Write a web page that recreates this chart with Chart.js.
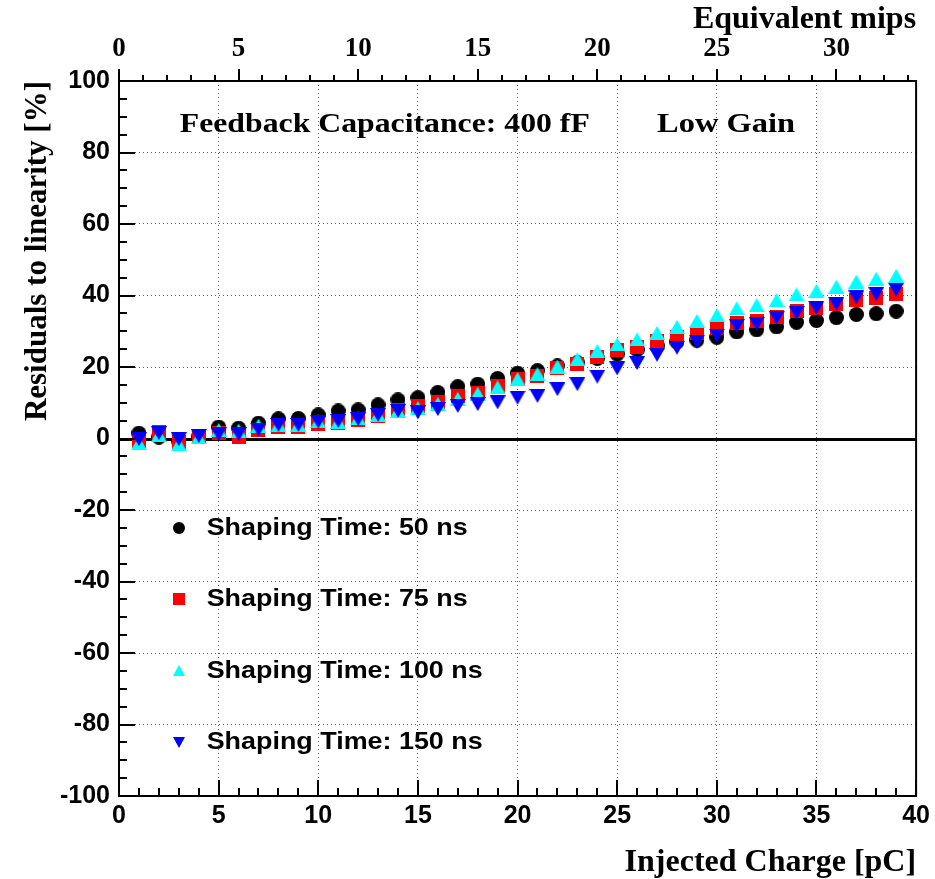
<!DOCTYPE html>
<html>
<head>
<meta charset="utf-8">
<script src="https://cdn.jsdelivr.net/npm/chart.js@4/dist/chart.umd.min.js"></script>
<style>
  html, body { margin: 0; padding: 0; background: #ffffff; }
  #c { display: block; }
</style>
</head>
<body>
<canvas id="c" width="935" height="879"></canvas>
<script>
// Injected charge in pC
const charge = [1,2,3,4,5,6,7,8,9,10,11,12,13,14,15,16,17,18,19,20,
                21,22,23,24,25,26,27,28,29,30,31,32,33,34,35,36,37,38,39];

// Residuals to linearity [%] for each shaping time
const shaping50 = [1.5,0.4,-0.8,0.5,3.2,2.9,4.3,5.5,5.6,6.6,7.7,8.0,9.4,10.8,11.4,12.9,14.5,15.2,16.8,18.3,
                   19.0,20.3,21.2,22.4,23.6,24.8,25.9,27.0,27.5,28.3,29.8,30.4,31.2,32.5,33.0,33.8,34.7,34.9,35.6];
const shaping75 = [-0.8,1.8,-1.0,0.6,1.5,0.5,2.4,3.1,3.2,4.1,4.2,5.2,6.4,8.0,9.1,10.3,11.9,12.7,14.7,16.7,
                   17.5,19.6,20.9,22.9,24.7,25.7,27.3,28.5,29.5,31.0,32.4,33.0,34.0,35.6,36.4,37.6,38.7,39.3,40.3];
const shaping100 = [-1.3,1.0,-1.6,0.3,2.4,2.2,3.6,3.8,3.8,4.8,4.6,5.6,6.6,7.7,8.5,9.7,11.1,12.5,14.3,16.6,
                    18.0,20.1,22.2,24.5,26.3,27.7,29.5,31.2,32.9,34.5,36.4,37.3,38.7,40.3,41.3,42.5,43.9,44.7,45.5];
const shaping150 = [-0.2,1.5,-0.2,0.7,1.2,1.2,2.5,3.8,3.8,4.7,4.9,5.4,6.6,7.7,7.3,8.2,9.1,9.6,10.1,11.4,
                    11.9,13.8,15.2,17.3,19.6,21.1,23.4,25.4,27.1,28.8,31.5,32.1,33.8,35.2,36.6,37.7,39.5,40.4,41.6];

const seriesLabels = ['Shaping Time: 50 ns', 'Shaping Time: 75 ns', 'Shaping Time: 100 ns', 'Shaping Time: 150 ns'];
const seriesColors = ['#000000', '#ff0000', '#00ffff', '#0000ff'];
const seriesShapes = ['circle', 'square', 'up', 'down'];

const xAxisTitle = 'Injected Charge [pC]';
const yAxisTitle = 'Residuals to linearity [%]';
const topAxisTitle = 'Equivalent mips';
const noteLeft = 'Feedback Capacitance: 400 fF';
const noteRight = 'Low Gain';

// one mip corresponds to 1.2 pC
const pcPerMip = 1.2;
const chargeMax = 40;

// Marker sprites (centred on their bounding box)
function makeMarker(shape, color, w, h) {
  const c = document.createElement('canvas');
  c.width = w; c.height = h;
  const g = c.getContext('2d');
  g.fillStyle = color;
  g.beginPath();
  if (shape === 'circle') {
    g.arc(w / 2, h / 2, w / 2, 0, Math.PI * 2);
  } else if (shape === 'square') {
    g.rect(0, 0, w, h);
  } else if (shape === 'up') {
    g.moveTo(w / 2, 0); g.lineTo(w, h); g.lineTo(0, h); g.closePath();
  } else {
    g.moveTo(0, 0); g.lineTo(w, 0); g.lineTo(w / 2, h); g.closePath();
  }
  g.fill();
  return c;
}
const markerSize = { circle: [15, 15], square: [14, 14], up: [16, 14], down: [16, 14] };
const legendSize = { circle: [12, 12], square: [12, 12], up: [12, 11], down: [12, 11] };

const markers = seriesShapes.map((s, i) => makeMarker(s, seriesColors[i], markerSize[s][0], markerSize[s][1]));
const legendMarkers = seriesShapes.map((s, i) => makeMarker(s, seriesColors[i], legendSize[s][0], legendSize[s][1]));

const seriesValues = [shaping50, shaping75, shaping100, shaping150];

const datasets = seriesValues.map((vals, i) => ({
  label: seriesLabels[i],
  data: charge.map((q, k) => ({ x: q, y: vals[k] })),
  pointStyle: markers[i],
  pointRadius: 8,
  pointHoverRadius: 8,
  showLine: false,
  order: 4 - i
}));

function stretchText(ctx, str, x, y, font, width) {
  ctx.save();
  ctx.font = font;
  const w = ctx.measureText(str).width;
  const s = width ? width / w : 1;
  ctx.translate(x, y);
  ctx.scale(s, 1);
  ctx.textAlign = 'left';
  ctx.textBaseline = 'middle';
  ctx.fillStyle = '#000';
  ctx.fillText(str, 0, 0);
  ctx.restore();
}

const frameAndLabels = {
  id: 'frameAndLabels',
  beforeDatasetsDraw(chart) {
    const { ctx, chartArea: a, scales: { y } } = chart;
    const y0 = Math.round(y.getPixelForValue(0)) + 0.5;
    ctx.save();
    ctx.strokeStyle = '#000';
    ctx.lineWidth = 3;
    ctx.beginPath();
    ctx.moveTo(a.left, y0);
    ctx.lineTo(a.right, y0);
    ctx.stroke();
    ctx.restore();
  },
  afterDatasetsDraw(chart) {
    const { ctx, chartArea: a, scales: { x, y, x2 } } = chart;
    ctx.save();
    ctx.strokeStyle = '#000';
    ctx.lineWidth = 2;
    ctx.strokeRect(a.left, a.top, a.right - a.left, a.bottom - a.top);

    // tick marks
    ctx.lineWidth = 2;
    ctx.beginPath();
    for (let v = -100; v <= 100; v += 5) {
      const p = Math.round(y.getPixelForValue(v));
      const len = v % 20 === 0 ? 16 : 8;
      ctx.moveTo(a.left, p); ctx.lineTo(a.left + len, p);
    }
    for (let v = 0; v <= chargeMax; v += 1) {
      const p = Math.round(x.getPixelForValue(v));
      const len = v % 5 === 0 ? 16 : 8;
      ctx.moveTo(p, a.bottom); ctx.lineTo(p, a.bottom - len);
    }
    for (let v = 0; v <= chargeMax / pcPerMip; v += 1) {
      const p = Math.round(x2.getPixelForValue(v));
      const len = v % 5 === 0 ? 12 : 6;
      ctx.moveTo(p, a.top); ctx.lineTo(p, a.top - len);
    }
    ctx.stroke();
    ctx.restore();

    // annotation texts
    stretchText(ctx, noteLeft, x.getPixelForValue(3.05), y.getPixelForValue(87.7),
      'bold 28px "Liberation Serif"', 410);
    stretchText(ctx, noteRight, x.getPixelForValue(27.0), y.getPixelForValue(87.7),
      'bold 28px "Liberation Serif"', 138);

    // legend
    const rows = [-25, -45, -65, -85];
    rows.forEach((r, i) => {
      const px = x.getPixelForValue(3.0);
      const py = y.getPixelForValue(r);
      const m = legendMarkers[i];
      ctx.drawImage(m, Math.round(px - m.width / 2), Math.round(py - m.height / 2));
      const widths = [261, 261, 276, 276];
      stretchText(ctx, seriesLabels[i], x.getPixelForValue(4.4), py, 'bold 24px "Liberation Sans"', widths[i]);
    });
  }
};

const gridColor = '#5a5a5a';

new Chart(document.getElementById('c'), {
  type: 'scatter',
  data: { datasets },
  options: {
    responsive: false,
    animation: false,
    events: [],
    layout: { padding: { left: 0, right: 17, top: 0, bottom: 0 } },
    plugins: { legend: { display: false }, tooltip: { enabled: false } },
    scales: {
      x: {
        type: 'linear',
        position: 'bottom',
        min: 0, max: chargeMax,
        afterFit(s) { s.height = 83; },
        ticks: {
          stepSize: 5,
          color: '#000',
          padding: 5,
          maxRotation: 0,
          font: { family: '"Liberation Sans"', weight: 'bold', size: 25 }
        },
        grid: {
          drawTicks: false,
          lineWidth: 1,
          color: c => (c.tick && c.tick.value > 0 && c.tick.value < chargeMax) ? gridColor : 'transparent'
        },
        border: { display: false, dash: [1, 3] },
        title: {
          display: true,
          text: xAxisTitle,
          align: 'end',
          color: '#000',
          padding: { top: 0, bottom: -3 },
          font: { family: '"Liberation Serif"', weight: 'bold', size: 32 }
        }
      },
      x2: {
        type: 'linear',
        position: 'top',
        min: 0, max: chargeMax / pcPerMip,
        afterFit(s) { s.height = 81; },
        ticks: {
          stepSize: 5,
          includeBounds: false,
          color: '#000',
          padding: 16,
          maxRotation: 0,
          font: { family: '"Liberation Serif"', weight: 'bold', size: 27 }
        },
        grid: { display: false, drawTicks: false },
        border: { display: false },
        title: {
          display: true,
          text: topAxisTitle,
          align: 'end',
          color: '#000',
          padding: { top: 1, bottom: 0 },
          font: { family: '"Liberation Serif"', weight: 'bold', size: 32 }
        }
      },
      y: {
        type: 'linear',
        position: 'left',
        min: -100, max: 100,
        afterFit(s) { s.width = 119; },
        ticks: {
          stepSize: 20,
          color: '#000',
          padding: 9,
          font: { family: '"Liberation Sans"', weight: 'bold', size: 25 }
        },
        grid: {
          drawTicks: false,
          lineWidth: 1,
          color: c => (c.tick && c.tick.value > -100 && c.tick.value < 100 && c.tick.value !== 0) ? gridColor : 'transparent'
        },
        border: { display: false, dash: [1, 3] },
        title: {
          display: true,
          text: yAxisTitle,
          align: 'end',
          color: '#000',
          padding: { top: 19, bottom: 0 },
          font: { family: '"Liberation Serif"', weight: 'bold', size: 31 }
        }
      }
    }
  },
  plugins: [frameAndLabels]
});
</script>
</body>
</html>
